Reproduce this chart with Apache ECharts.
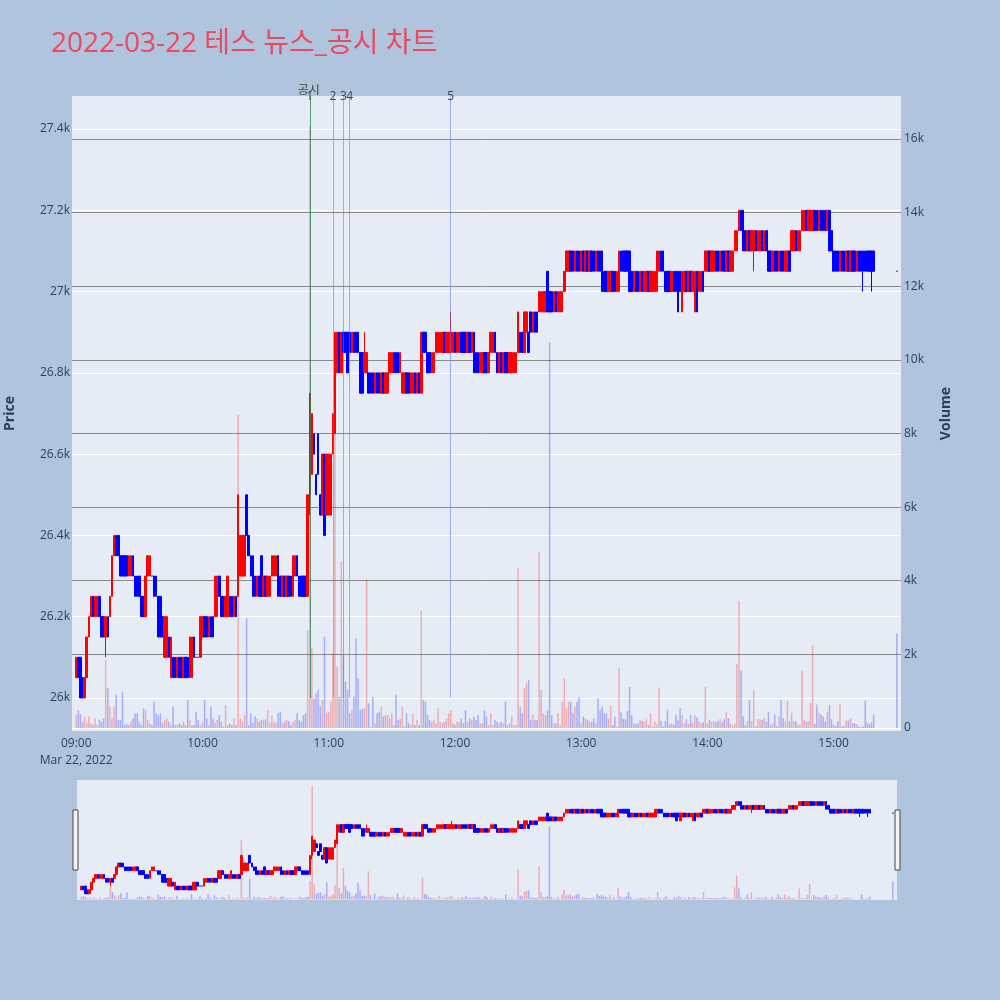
<!DOCTYPE html>
<html><head><meta charset="utf-8">
<script src="https://cdn.jsdelivr.net/npm/echarts@6/dist/echarts.min.js"></script>
<style>html,body{margin:0;padding:0;background:#b0c4de;}#c{width:1000px;height:1000px;}</style>
</head><body><div id="c"></div>
<script>
const opens = [
26050,26100,26100,26050,26000,26050,26150,26200,26250,26200,
26200,26250,26200,26200,26150,26200,26200,26250,26350,26400,
26400,26350,26350,26350,26350,26300,26300,26350,26300,26300,
26300,26250,26250,26200,26300,26300,26300,26300,26300,26250,
26250,26200,26100,26100,26150,26050,26100,26100,26050,26100,
26100,26050,26100,26100,26050,26050,26150,26100,26100,26100,
26150,26200,26200,26150,26200,26200,26200,26200,26300,26250,
26250,26200,26200,26250,26250,26200,26250,26250,26300,26300,
26300,26500,26400,26350,26350,26300,26250,26300,26350,26250,
26300,26250,26250,26300,26300,26300,26350,26300,26250,26300,
26250,26300,26300,26250,26300,26350,26300,26300,26300,26300,
26250,26500,26550,26650,26550,26650,26500,26450,26600,26450,
26450,26450,26600,26650,26800,26900,26800,26900,26900,26900,
26900,26850,26900,26900,26900,26850,26850,26800,26800,26800,
26800,26800,26750,26800,26800,26750,26800,26750,26750,26800,
26800,26850,26850,26850,26800,26750,26750,26800,26800,26750,
26750,26800,26750,26800,26750,26900,26900,26850,26850,26800,
26800,26850,26850,26850,26850,26900,26850,26850,26850,26850,
26900,26850,26850,26900,26900,26900,26850,26900,26850,26900,
26850,26850,26800,26800,26850,26850,26800,26850,26850,26900,
26850,26800,26850,26800,26850,26850,26800,26800,26800,26800,
26850,26900,26900,26850,26900,26900,26950,26900,26950,26950,
26950,26950,26950,26950,27050,27000,27000,26950,27000,26950,
26950,26950,27000,27050,27050,27100,27100,27050,27100,27100,
27050,27100,27050,27100,27050,27100,27100,27050,27100,27100,
27100,27050,27050,27000,27000,27050,27050,27000,27000,27100,
27100,27100,27100,27100,27050,27000,27050,27050,27000,27050,
27000,27000,27050,27000,27000,27000,27000,27050,27100,27100,
27050,27050,27050,27000,27050,27050,27050,27050,26950,27000,
27050,27000,27050,27000,26950,27050,27000,27000,27050,27050,
27050,27100,27050,27050,27100,27100,27050,27100,27100,27050,
27100,27050,27050,27100,27100,27150,27200,27200,27150,27100,
27150,27100,27100,27150,27100,27100,27150,27100,27150,27100,
27100,27050,27100,27100,27050,27100,27100,27050,27050,27100,
27100,27100,27150,27100,27100,27150,27150,27200,27150,27150,
27150,27200,27200,27150,27200,27200,27200,27150,27200,27150,
27100,27100,27100,27050,27100,27100,27050,27100,27050,27100,
27100,27050,27100,27100,27100,27100,27100,27100,27100,27100,
27050];
const closes = [
26100,26050,26000,26000,26050,26150,26200,26250,26200,26250,
26250,26200,26150,26150,26200,26150,26250,26350,26400,26350,
26350,26300,26300,26300,26300,26350,26350,26300,26250,26250,
26250,26200,26200,26300,26350,26350,26300,26250,26250,26150,
26150,26150,26200,26200,26100,26150,26050,26050,26100,26050,
26050,26100,26050,26050,26150,26150,26100,26100,26100,26200,
26200,26150,26150,26200,26150,26150,26300,26300,26250,26200,
26200,26250,26300,26200,26200,26250,26200,26500,26400,26400,
26400,26400,26350,26300,26250,26250,26300,26250,26250,26300,
26250,26300,26300,26350,26350,26350,26250,26250,26300,26250,
26300,26250,26250,26350,26350,26300,26250,26250,26250,26250,
26500,26750,26700,26600,26500,26550,26450,26600,26400,26600,
26600,26600,26700,26900,26900,26800,26900,26850,26850,26800,
26850,26900,26850,26850,26850,26750,26750,26850,26850,26750,
26750,26750,26800,26750,26750,26800,26750,26800,26800,26850,
26850,26800,26800,26800,26850,26800,26800,26750,26750,26800,
26800,26750,26800,26750,26900,26850,26850,26800,26800,26850,
26850,26900,26900,26900,26900,26850,26900,26900,26900,26900,
26850,26900,26900,26850,26850,26850,26900,26850,26900,26800,
26800,26800,26850,26850,26800,26800,26850,26900,26900,26850,
26800,26850,26800,26850,26800,26800,26850,26850,26850,26850,
26950,26850,26850,26950,26950,26850,26900,26950,26900,26900,
27000,27000,27000,27000,26950,26950,26950,27000,26950,27000,
27000,27000,27050,27100,27100,27050,27050,27100,27050,27050,
27100,27050,27100,27050,27100,27050,27050,27100,27050,27050,
27000,27000,27000,27050,27050,27000,27000,27050,27100,27050,
27050,27050,27050,27000,27000,27050,27000,27000,27050,27000,
27050,27050,27000,27050,27050,27050,27100,27100,27050,27050,
27000,27000,27000,27050,27000,27000,26950,27000,27050,27050,
27000,27050,27000,27050,27050,26950,27050,27050,27000,27100,
27100,27050,27100,27100,27050,27050,27100,27050,27050,27100,
27050,27100,27100,27150,27150,27200,27150,27100,27100,27150,
27100,27150,27150,27100,27150,27150,27100,27150,27100,27050,
27050,27100,27050,27050,27100,27050,27050,27100,27100,27050,
27150,27150,27100,27150,27150,27200,27200,27150,27200,27200,
27200,27150,27150,27200,27150,27150,27150,27200,27100,27100,
27050,27050,27050,27100,27050,27050,27100,27050,27100,27050,
27050,27100,27050,27050,27050,27050,27050,27050,27050,27050,
27050];
const lows = [
26050,26050,26000,26000,26000,26050,26150,26200,26200,26200,
26200,26200,26150,26150,26100,26150,26200,26250,26350,26350,
26350,26300,26300,26300,26300,26300,26300,26300,26250,26250,
26250,26200,26200,26200,26300,26300,26300,26250,26250,26150,
26150,26150,26100,26100,26100,26050,26050,26050,26050,26050,
26050,26050,26050,26050,26050,26050,26100,26100,26100,26100,
26150,26150,26150,26150,26150,26150,26200,26200,26250,26200,
26200,26200,26200,26200,26200,26200,26200,26250,26300,26300,
26300,26400,26350,26300,26250,26250,26250,26250,26250,26250,
26250,26250,26250,26300,26300,26300,26250,26250,26250,26250,
26250,26250,26250,26250,26300,26300,26250,26250,26250,26250,
26250,26450,26550,26600,26500,26550,26450,26450,26400,26450,
26450,26450,26600,26650,26800,26800,26800,26850,26850,26800,
26850,26850,26850,26850,26850,26750,26750,26800,26800,26750,
26750,26750,26750,26750,26750,26750,26750,26750,26750,26800,
26800,26800,26800,26800,26800,26750,26750,26750,26750,26750,
26750,26750,26750,26750,26750,26850,26850,26800,26800,26800,
26800,26850,26850,26850,26850,26850,26850,26850,26850,26850,
26850,26850,26850,26850,26850,26850,26850,26850,26850,26800,
26800,26800,26800,26800,26800,26800,26800,26850,26850,26850,
26800,26800,26800,26800,26800,26800,26800,26800,26800,26800,
26850,26850,26850,26850,26900,26850,26900,26900,26900,26900,
26950,26950,26950,26950,26950,26950,26950,26950,26950,26950,
26950,26950,27000,27050,27050,27050,27050,27050,27050,27050,
27050,27050,27050,27050,27050,27050,27050,27050,27050,27050,
27000,27000,27000,27000,27000,27000,27000,27000,27000,27050,
27050,27050,27050,27000,27000,27000,27000,27000,27000,27000,
27000,27000,27000,27000,27000,27000,27000,27050,27050,27050,
27000,27000,27000,27000,27000,27000,26950,27000,26950,27000,
27000,27000,27000,27000,26950,26950,27000,27000,27000,27050,
27050,27050,27050,27050,27050,27050,27050,27050,27050,27050,
27050,27050,27050,27100,27100,27150,27150,27100,27100,27100,
27100,27100,27050,27100,27100,27100,27100,27100,27100,27050,
27050,27050,27050,27050,27050,27050,27050,27050,27050,27050,
27100,27100,27100,27100,27100,27150,27150,27150,27150,27150,
27150,27150,27150,27150,27150,27150,27150,27150,27100,27100,
27050,27050,27050,27050,27050,27050,27050,27050,27050,27050,
27050,27050,27050,27050,27000,27050,27050,27050,27000,27050,
27050];
const highs = [
26100,26100,26100,26050,26050,26150,26200,26250,26250,26250,
26250,26250,26200,26200,26200,26200,26250,26350,26400,26400,
26400,26350,26350,26350,26350,26350,26350,26350,26300,26300,
26300,26250,26250,26300,26350,26350,26300,26300,26300,26250,
26250,26200,26200,26200,26150,26150,26100,26100,26100,26100,
26100,26100,26100,26100,26150,26150,26150,26100,26100,26200,
26200,26200,26200,26200,26200,26200,26300,26300,26300,26250,
26250,26250,26300,26250,26250,26250,26250,26500,26400,26400,
26400,26500,26400,26350,26350,26300,26300,26300,26350,26300,
26300,26300,26300,26350,26350,26350,26350,26300,26300,26300,
26300,26300,26300,26350,26350,26350,26300,26300,26300,26300,
26500,26750,26700,26650,26550,26650,26500,26600,26600,26600,
26600,26600,26700,26900,26900,26900,26900,26900,26900,26900,
26900,26900,26900,26900,26900,26850,26850,26900,26850,26800,
26800,26800,26800,26800,26800,26800,26800,26800,26800,26850,
26850,26850,26850,26850,26850,26800,26800,26800,26800,26800,
26800,26800,26800,26800,26900,26900,26900,26850,26850,26850,
26850,26900,26900,26900,26900,26900,26900,26900,26950,26900,
26900,26900,26900,26900,26900,26900,26900,26900,26900,26900,
26850,26850,26850,26850,26850,26850,26850,26900,26900,26900,
26850,26850,26850,26850,26850,26850,26850,26850,26850,26850,
26950,26900,26900,26950,26950,26900,26950,26950,26950,26950,
27000,27000,27000,27000,27050,27000,27000,27000,27000,27000,
27000,27000,27050,27100,27100,27100,27100,27100,27100,27100,
27100,27100,27100,27100,27100,27100,27100,27100,27100,27100,
27100,27050,27050,27050,27050,27050,27050,27050,27100,27100,
27100,27100,27100,27100,27050,27050,27050,27050,27050,27050,
27050,27050,27050,27050,27050,27050,27100,27100,27100,27100,
27050,27050,27050,27050,27050,27050,27050,27050,27050,27050,
27050,27050,27050,27050,27050,27050,27050,27050,27050,27100,
27100,27100,27100,27100,27100,27100,27100,27100,27100,27100,
27100,27100,27100,27150,27150,27200,27200,27200,27150,27150,
27150,27150,27150,27150,27150,27150,27150,27150,27150,27100,
27100,27100,27100,27100,27100,27100,27100,27100,27100,27100,
27150,27150,27150,27150,27150,27200,27200,27200,27200,27200,
27200,27200,27200,27200,27200,27200,27200,27200,27200,27150,
27100,27100,27100,27100,27100,27100,27100,27100,27100,27100,
27100,27100,27100,27100,27100,27100,27100,27100,27100,27100,
27050];
const volumes = [
350,490,380,170,310,130,310,130,80,260,
80,220,170,260,1850,1080,580,260,580,900,
220,220,990,80,110,80,170,260,400,400,
170,80,530,490,220,130,80,715,400,350,
400,130,220,260,170,80,580,80,80,130,
80,170,80,760,220,80,80,440,220,80,
170,760,260,80,580,260,145,220,350,170,
40,625,80,130,80,260,80,8500,260,170,
350,2980,80,400,145,310,260,170,220,220,
235,490,145,350,170,145,400,440,130,170,
220,190,80,170,220,400,220,170,350,400,
2660,16350,2160,800,940,1030,580,760,2480,400,
440,715,2030,9000,1670,850,4520,1980,1260,1030,
400,490,850,2440,1350,490,530,530,4040,670,
30,850,130,400,440,580,310,350,350,260,
400,80,900,220,260,580,40,400,130,80,
400,80,220,80,3180,760,715,350,220,170,
220,130,530,170,130,170,260,400,490,130,
80,170,170,260,130,490,170,260,220,310,
220,350,130,130,490,310,80,400,80,220,
170,130,170,130,715,80,130,310,80,80,
4340,580,400,1080,1210,1300,220,350,220,220,
4770,1030,400,350,490,10480,350,130,130,400,
80,715,1350,530,715,715,400,580,715,850,
130,310,260,220,170,170,260,130,805,490,
580,400,400,260,600,80,310,40,1640,425,
245,235,460,1110,345,130,110,130,220,200,
170,235,80,400,40,165,110,1095,190,40,
190,500,90,130,80,370,210,540,350,130,
235,110,350,130,350,290,190,130,155,1110,
130,220,170,200,170,190,245,155,235,425,
265,110,55,130,1740,3450,1560,310,80,190,
760,190,1030,40,235,235,220,280,170,435,
80,130,370,55,310,760,265,190,740,180,
415,190,180,80,100,1560,220,170,190,680,
2250,110,640,415,360,310,170,435,625,245,
80,55,180,660,40,55,200,200,265,130,
130,110,40,20,40,740,145,100,155,370,
2570];
const priceTicks = [26000,26200,26400,26600,26800,27000,27200,27400];
const volumeTicks = [0,2000,4000,6000,8000,10000,12000,14000,16000];
const noticeTimes = ['10:51','11:02','11:07','11:10','11:58'];
const noticeLabels = ['1','2','3','4','5'];

function hm(t){const h=Math.floor(t/60),m=t%60;return (h<10?'0':'')+h+':'+(m<10?'0':'')+m;}
const axisTimes=[];for(let t=8*60+58;t<=15*60+32;t++)axisTimes.push(hm(t));
const candleTimes=[];for(let i=0;i<380;i++)candleTimes.push(hm(540+i));candleTimes.push('15:30');

const PMIN=25918.7, PMAX=27481.3, VMIN=-81.5, VMAX=17168;
const UP='#ff0000', DOWN='#0000ff';
const UPV='rgba(255,0,0,0.27)', DOWNV='rgba(0,0,255,0.27)';

const candleData = candleTimes.map((t,i)=>[t,opens[i],closes[i],lows[i],highs[i]]);
const volData = candleTimes.map((t,i)=>({value:[t,volumes[i]],itemStyle:{color: closes[i]>opens[i]?UPV:DOWNV}}));

const lineColors = ['rgba(46,139,87,0.8)','rgba(90,115,235,0.55)','rgba(90,115,235,0.55)','rgba(90,115,235,0.55)','rgba(90,115,235,0.55)'];

const chart = echarts.init(document.getElementById('c'), null, {renderer:'canvas'});
const labelColor = '#2a3f5f';
chart.setOption({
  backgroundColor:'#b0c4de',
  animation:false,
  title:{text:'2022-03-22 테스 뉴스_공시 차트', left:46, top:25,
    textStyle:{color:'#e84a5f', fontSize:28, fontWeight:'normal', fontFamily:'Open Sans, Noto Sans CJK KR, sans-serif'}},
  grid:[
    {left:72,right:99,top:96,bottom:269,show:true,backgroundColor:'#e5ecf6',borderWidth:0,containLabel:false,outerBoundsMode:'none'},
    {left:77,right:103,top:780,height:120,show:true,backgroundColor:'#e5ecf6',borderWidth:0,containLabel:false,outerBoundsMode:'none'}
  ],
  xAxis:[
    {type:'category',gridIndex:0,data:axisTimes,boundaryGap:false,
     axisLine:{show:false},axisTick:{show:false},splitLine:{show:false},
     axisLabel:{interval:(i,v)=>v.endsWith(':00'),formatter:v=>v==='09:00'?'09:00\nMar 22, 2022':v,
       color:labelColor,fontSize:12,margin:4,lineHeight:17,fontFamily:'Open Sans, sans-serif',hideOverlap:false}},
    {type:'category',gridIndex:1,data:axisTimes,boundaryGap:false,show:false}
  ],
  yAxis:[
    {type:'value',gridIndex:0,min:PMIN,max:PMAX,position:'left',
     axisLine:{show:false},axisTick:{show:false,customValues:priceTicks},
     axisLabel:{customValues:priceTicks,formatter:v=>(v/1000)+'k',color:labelColor,fontSize:12,margin:2,padding:[4,0,0,0],fontFamily:'Open Sans, sans-serif'},
     splitLine:{show:true,lineStyle:{color:'#ffffff',width:1}},
     name:'Price',nameLocation:'middle',nameGap:55,nameRotate:90,
     nameTextStyle:{color:labelColor,fontSize:14,fontWeight:'bold',fontFamily:'Open Sans, sans-serif'}},
    {type:'value',gridIndex:0,min:VMIN,max:VMAX,position:'right',
     axisLine:{show:false},axisTick:{show:false,customValues:volumeTicks},
     axisLabel:{customValues:volumeTicks,formatter:v=>v===0?'0':(v/1000)+'k',color:labelColor,fontSize:12,margin:3,padding:[2,0,0,0],fontFamily:'Open Sans, sans-serif'},
     splitLine:{show:true,lineStyle:{color:['#ffffff','#8a8a8a','#8a8a8a','#8a8a8a','#8a8a8a','#8a8a8a','#8a8a8a','#8a8a8a','#8a8a8a'],width:1}},
     name:'Volume',nameLocation:'middle',nameGap:38,nameRotate:90,
     nameTextStyle:{color:labelColor,fontSize:14,fontWeight:'bold',fontFamily:'Open Sans, sans-serif'}},
    {type:'value',gridIndex:1,min:PMIN,max:PMAX,show:false,splitLine:{show:false}},
    {type:'value',gridIndex:1,min:VMIN,max:VMAX,show:false,splitLine:{show:false}}
  ],
  series:[
    {type:'bar',name:'vol',xAxisIndex:0,yAxisIndex:1,data:volData,barWidth:1.5,z:1},
    {type:'candlestick',name:'price',xAxisIndex:0,yAxisIndex:0,data:candleData,
     encode:{x:0,y:[1,2,3,4]},barWidth:2,z:3,
     itemStyle:{color:UP,color0:DOWN,borderColor:UP,borderColor0:DOWN,borderColorDoji:DOWN,borderWidth:1},
     markLine:{silent:true,symbol:['none','none'],animation:false,label:{show:false},
       data:noticeTimes.map((t,i)=>[{coord:[t,26000],lineStyle:{color:lineColors[i],width:1,type:'solid'}},{coord:[t,PMAX]}])},
     markPoint:{silent:true,symbol:'rect',symbolSize:1,itemStyle:{color:'rgba(0,0,0,0)'},
       data:noticeTimes.map((t,i)=>({coord:[t,PMAX],label:{show:true,formatter:noticeLabels[i],position:'inside',offset:[0,1],color:'#444',fontSize:12,fontFamily:'Open Sans, sans-serif'}}))
         .concat([{coord:[noticeTimes[0],PMAX],label:{show:true,formatter:'공시',position:'inside',offset:[-1,-7],color:'#444',fontSize:12,fontFamily:'Noto Sans CJK KR, sans-serif'}}])}
    },
    {type:'bar',name:'vol2',xAxisIndex:1,yAxisIndex:3,data:volData,barWidth:1.5,z:1},
    {type:'candlestick',name:'price2',xAxisIndex:1,yAxisIndex:2,data:candleData,
     encode:{x:0,y:[1,2,3,4]},barWidth:2,z:3,
     itemStyle:{color:UP,color0:DOWN,borderColor:UP,borderColor0:DOWN,borderColorDoji:DOWN,borderWidth:1}}
  ],
  graphic:[
    {type:'rect',shape:{x:73,y:810,width:5,height:60},style:{fill:'#f4f4f4',stroke:'#444',lineWidth:1},z:10},
    {type:'rect',shape:{x:895,y:810,width:5,height:60},style:{fill:'#f4f4f4',stroke:'#444',lineWidth:1},z:10}
  ]
});
</script></body></html>
